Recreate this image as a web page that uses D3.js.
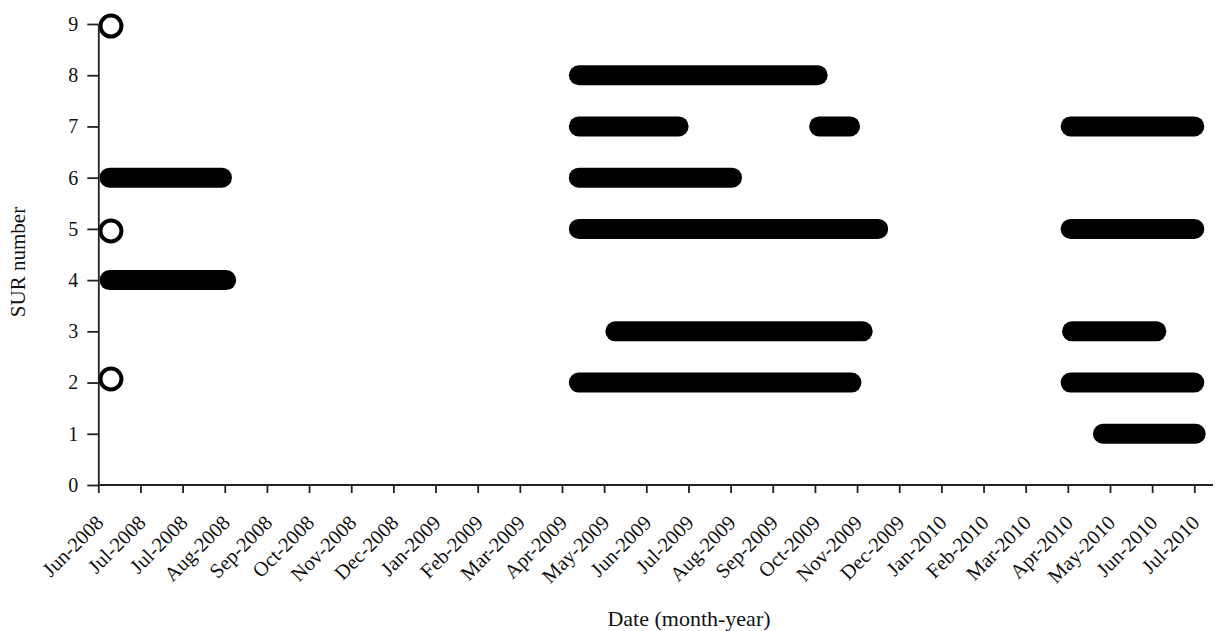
<!DOCTYPE html>
<html>
<head>
<meta charset="utf-8">
<script src="https://cdn.jsdelivr.net/npm/d3@7"></script>
<style>
    body { margin: 0; background: #fff; }
    text { font-family: "Liberation Serif", "Times New Roman", serif; fill: #111; }
</style>
</head>
<body>
<div id="chart"></div>
<script>
// SUR presence periods: [SUR number, first date, last date]
const period2008 = [
    [6, "2008-06-09", "2008-08-28"],
    [4, "2008-06-09", "2008-08-31"]
];
const period2009 = [
    [8, "2009-05-09", "2009-10-26"],
    [7, "2009-05-09", "2009-07-19"],
    [7, "2009-10-27", "2009-11-18"],
    [6, "2009-05-09", "2009-08-26"],
    [5, "2009-05-09", "2009-12-08"],
    [3, "2009-06-04", "2009-11-27"],
    [2, "2009-05-09", "2009-11-19"]
];
const period2010 = [
    [7, "2010-04-24", "2010-07-21"],
    [5, "2010-04-24", "2010-07-21"],
    [3, "2010-04-25", "2010-06-24"],
    [2, "2010-04-24", "2010-07-21"],
    [1, "2010-05-17", "2010-07-22"]
];
// single sightings (open circles)
const singles = [
    [8.96, "2008-06-10"],
    [4.96, "2008-06-10"],
    [2.07, "2008-06-10"]
];

// the axis is a date axis with a major unit of 30 days
const tickDates = [
    "2008-06-01", "2008-07-01", "2008-07-31", "2008-08-30", "2008-09-29",
    "2008-10-29", "2008-11-28", "2008-12-28", "2009-01-27", "2009-02-26",
    "2009-03-28", "2009-04-27", "2009-05-27", "2009-06-26", "2009-07-26",
    "2009-08-25", "2009-09-24", "2009-10-24", "2009-11-23", "2009-12-23",
    "2010-01-22", "2010-02-21", "2010-03-23", "2010-04-22", "2010-05-22",
    "2010-06-21", "2010-07-21"
];
const yTicks = [0, 1, 2, 3, 4, 5, 6, 7, 8, 9];

const width = 1215,
    height = 631,
    plotLeft = 98.3,
    plotRight = 1194.3,
    plotTop = 24,
    plotBottom = 485;

const parse = d3.utcParse("%Y-%m-%d");
const fmt = d3.utcFormat("%b-%Y");

const x = d3.scaleUtc()
    .domain([parse(tickDates[0]), parse(tickDates[tickDates.length - 1])])
    .range([plotLeft, plotRight]);

const y = d3.scaleLinear()
    .domain([0, 9])
    .range([plotBottom, plotTop]);

const svg = d3.select("#chart")
    .append("svg")
    .attr("width", width)
    .attr("height", height);

// bars
const segments = period2008.concat(period2009, period2010);

svg.append("g")
    .attr("class", "bars")
    .selectAll("line")
    .data(segments)
    .enter()
    .append("line")
    .attr("x1", d => x(parse(d[1])))
    .attr("x2", d => x(parse(d[2])))
    .attr("y1", d => y(d[0]))
    .attr("y2", d => y(d[0]))
    .attr("stroke", "#000")
    .attr("stroke-width", 20)
    .attr("stroke-linecap", "round");

svg.append("g")
    .attr("class", "singles")
    .selectAll("circle")
    .data(singles)
    .enter()
    .append("circle")
    .attr("cx", d => x(parse(d[1])))
    .attr("cy", d => y(d[0]))
    .attr("r", 10.5)
    .attr("fill", "#fff")
    .attr("stroke", "#000")
    .attr("stroke-width", 4);

// y axis
const yAxis = svg.append("g")
    .attr("transform", `translate(${plotLeft}, 0)`)
    .call(d3.axisLeft(y).tickValues(yTicks).tickSize(11).tickSizeOuter(0).tickPadding(9));

yAxis.selectAll("text")
    .style("font-size", "20px");

// x axis
const xAxis = svg.append("g")
    .attr("transform", `translate(0, ${plotBottom})`)
    .call(d3.axisBottom(x).tickValues(tickDates.map(parse)).tickSize(8).tickSizeOuter(0).tickFormat(fmt));

xAxis.select(".domain").remove();
xAxis.append("line")
    .attr("x1", plotLeft)
    .attr("x2", 1213)
    .attr("stroke", "#222")
    .attr("stroke-width", 1.8);

xAxis.selectAll(".tick text")
    .style("font-size", "20.5px")
    .attr("text-anchor", "end")
    .attr("y", 0)
    .attr("dy", 0)
    .attr("transform", "translate(6, 39) rotate(-45)");

svg.selectAll(".domain, .tick line")
    .attr("stroke", "#222")
    .attr("stroke-width", 1.8);

svg.selectAll(".tick text").style("fill", "#111");

// axis titles
svg.append("text")
    .attr("transform", "translate(25, 262) rotate(-90)")
    .attr("text-anchor", "middle")
    .style("font-size", "21px")
    .text("SUR number");

svg.append("text")
    .attr("x", 689)
    .attr("y", 626)
    .attr("text-anchor", "middle")
    .style("font-size", "22px")
    .text("Date (month-year)");
</script>
</body>
</html>
